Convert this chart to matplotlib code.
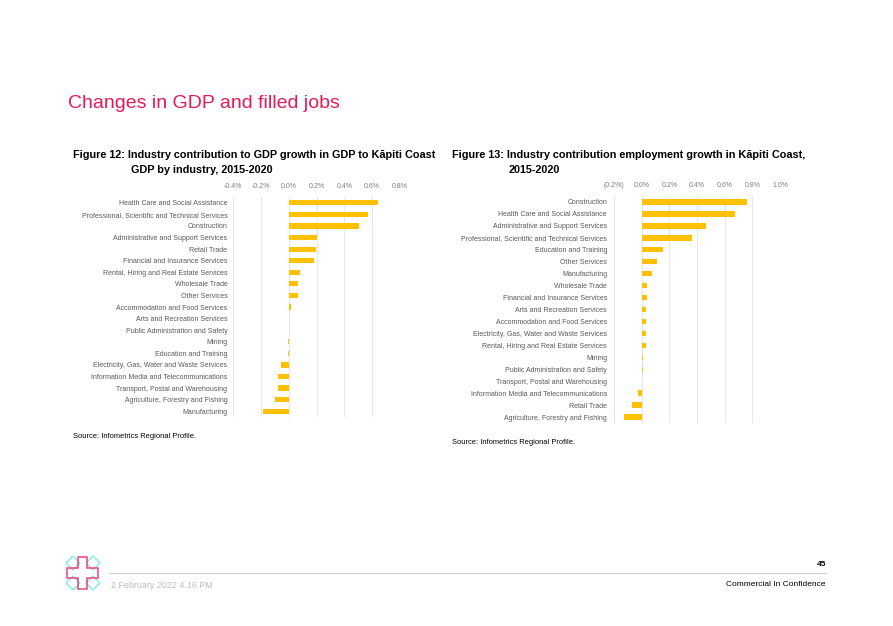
import matplotlib
matplotlib.use("Agg")
from matplotlib import pyplot as plt
from matplotlib.patches import Polygon

plt.rcParams['font.family'] = ['Liberation Sans', 'DejaVu Sans']

# Figure 12 data (contribution to GDP growth, %)
gdpIndustries = [
	"Health Care and Social Assistance",
	"Professional, Scientific and Technical Services",
	"Construction",
	"Administrative and Support Services",
	"Retail Trade",
	"Financial and Insurance Services",
	"Rental, Hiring and Real Estate Services",
	"Wholesale Trade",
	"Other Services",
	"Accommodation and Food Services",
	"Arts and Recreation Services",
	"Public Administration and Safety",
	"Mining",
	"Education and Training",
	"Electricity, Gas, Water and Waste Services",
	"Information Media and Telecommunications",
	"Transport, Postal and Warehousing",
	"Agriculture, Forestry and Fishing",
	"Manufacturing",
]
gdpValues = [0.645, 0.567, 0.507, 0.205, 0.198, 0.179, 0.083, 0.067, 0.067, 0.017,
			0.005, 0.0, -0.003, -0.003, -0.057, -0.076, -0.076, -0.095, -0.188]
gdpTicks = [-0.4, -0.2, 0.0, 0.2, 0.4, 0.6, 0.8]
gdpTickLabels = ["-0.4%", "-0.2%", "0.0%", "0.2%", "0.4%", "0.6%", "0.8%"]

# Figure 13 data (contribution to employment growth, %)
jobIndustries = [
	"Construction",
	"Health Care and Social Assistance",
	"Administrative and Support Services",
	"Professional, Scientific and Technical Services",
	"Education and Training",
	"Other Services",
	"Manufacturing",
	"Wholesale Trade",
	"Financial and Insurance Services",
	"Arts and Recreation Services",
	"Accommodation and Food Services",
	"Electricity, Gas, Water and Waste Services",
	"Rental, Hiring and Real Estate Services",
	"Mining",
	"Public Administration and Safety",
	"Transport, Postal and Warehousing",
	"Information Media and Telecommunications",
	"Retail Trade",
	"Agriculture, Forestry and Fishing",
]
jobValues = [0.759, 0.678, 0.468, 0.361, 0.153, 0.110, 0.072, 0.038, 0.038, 0.031,
			0.034, 0.034, 0.034, 0.012, 0.012, 0.0, -0.029, -0.072, -0.131]
jobTicks = [-0.2, 0.0, 0.2, 0.4, 0.6, 0.8, 1.0]
jobTickLabels = ["(0.2%)", "0.0%", "0.2%", "0.4%", "0.6%", "0.8%", "1.0%"]

BAR = '#FFC000'
W, H = 893, 626


def figRect(left, top, right, bottom):
	return [left / W, 1 - bottom / H, (right - left) / W, (bottom - top) / H]


def drawBars(ax, names, values, ticks, labels, ypad):
	pos = list(range(len(names)))
	ax.barh(pos, values, height=0.45, color=BAR, zorder=3)
	ax.set_ylim(len(names) - 0.5, -0.5)
	ax.set_xlim(ticks[0], ticks[-1])
	ax.set_yticks(pos)
	ax.set_yticklabels(names, fontsize=5, color='#595959')
	ax.set_xticks(ticks)
	ax.set_xticklabels(labels, fontsize=5, color='#7f7f7f')
	ax.xaxis.tick_top()
	ax.tick_params(axis='both', length=0)
	ax.tick_params(axis='x', pad=5)
	ax.tick_params(axis='y', pad=ypad)
	ax.grid(axis='x', color='#e3e3e3', linewidth=0.6, zorder=0)
	for s in ax.spines.values():
		s.set_visible(False)
	ax.axvline(ticks[0], color='#e3e3e3', linewidth=0.6, zorder=1)


fig = plt.figure(figsize=(W / 100, H / 100), dpi=100)

ax1 = fig.add_axes(figRect(233, 197, 400, 417))
drawBars(ax1, gdpIndustries, gdpValues, gdpTicks, gdpTickLabels, 4)

ax2 = fig.add_axes(figRect(614, 196, 780, 423))
drawBars(ax2, jobIndustries, jobValues, jobTicks, jobTickLabels, 5)

# page decorations drawn in pixel coordinates
deco = fig.add_axes([0, 0, 1, 1], zorder=-1)
deco.set_xlim(0, W)
deco.set_ylim(H, 0)
deco.axis('off')

deco.text(68, 104, "Changes in GDP and filled jobs", fontsize=14, color='#E5195A', va='center')

deco.text(73, 155, "Figure 12: Industry contribution to GDP growth in GDP to Kāpiti Coast",
		fontsize=7.8, fontweight='bold', va='center')
deco.text(131, 170, "GDP by industry, 2015-2020", fontsize=7.8, fontweight='bold', va='center')
deco.text(452, 155, "Figure 13: Industry contribution employment growth in Kāpiti Coast,",
		fontsize=7.8, fontweight='bold', va='center')
deco.text(509, 170, "2015-2020", fontsize=7.8, fontweight='bold', va='center')

deco.text(73, 436, "Source: Infometrics Regional Profile.", fontsize=5.4, va='center')
deco.text(452, 443, "Source: Infometrics Regional Profile.", fontsize=5.4, va='center')

# footer
deco.plot([110, 826], [573, 573], color='#d0d0d0', linewidth=0.8)
deco.text(826, 564, "45", fontsize=6, fontweight='bold', ha='right', va='center')
deco.text(111, 585, "2 February 2022 4.16 PM", fontsize=6.4, color='#bdbdbd', va='center')
deco.text(826, 585, "Commercial In Confidence", fontsize=6, ha='right', va='center')

# logo: pink cross outline with cyan diamonds in the corners
for cx, cy in [(73, 563), (93, 563), (73, 583), (93, 583)]:
	d = 7
	deco.add_patch(Polygon([(cx, cy - d), (cx + d, cy), (cx, cy + d), (cx - d, cy)],
						closed=True, fill=False, edgecolor='#7FE8EE', linewidth=1))
cross = [(78, 557), (87, 557), (87, 568), (98, 568), (98, 578), (87, 578), (87, 589),
		(78, 589), (78, 578), (67, 578), (67, 568), (78, 568)]
deco.add_patch(Polygon(cross, closed=True, fill=False, edgecolor='#F0447A', linewidth=1.1))

fig.savefig("out.png", dpi=100)
